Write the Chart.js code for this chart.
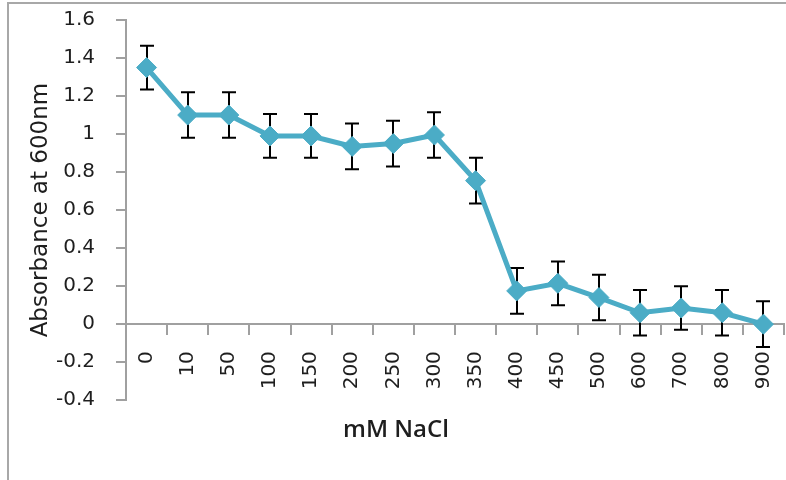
<!DOCTYPE html>
<html>
<head>
<meta charset="utf-8">
<script src="https://cdn.jsdelivr.net/npm/chart.js@4/dist/chart.umd.min.js"></script>
<style>
  body { margin: 0; background: #fff; }
  #wrap { position: relative; width: 786px; height: 480px; }
  #frame { position: absolute; left: 7px; top: 2px; right: 0; bottom: 0;
           border-left: 2px solid #a8a8a8; border-top: 2px solid #a8a8a8; }
  canvas { position: absolute; left: 0; top: 0; }
</style>
</head>
<body>
<div id="wrap">
  <div id="frame"></div>
  <canvas id="nacl" width="786" height="480"></canvas>
</div>
<script>
// NaCl concentration (mM) vs absorbance at 600nm
const nacl = ['0', '10', '50', '100', '150', '200', '250', '300', '350', '400', '450', '500', '600', '700', '800', '900']
const absorbance = [1.35, 1.10, 1.10, 0.99, 0.99, 0.935, 0.95, 0.995, 0.755, 0.175, 0.215, 0.14, 0.06, 0.085, 0.06, 0.0]
const errors = [0.115, 0.12, 0.12, 0.115, 0.115, 0.12, 0.12, 0.12, 0.12, 0.12, 0.115, 0.12, 0.12, 0.115, 0.12, 0.12]
const yTicks = [-0.4, -0.2, 0, 0.2, 0.4, 0.6, 0.8, 1, 1.2, 1.4, 1.6]

const axisGray = '#a0a0a0'
const textColor = '#1e1e1e'

// error bars drawn under the line so the markers cover them
const errorBars = {
  id: 'errorBars',
  beforeDatasetsDraw(chart) {
    let ctx = chart.ctx
    let y = chart.scales.y
    let pts = chart.getDatasetMeta(0).data
    ctx.save()
    ctx.strokeStyle = '#000'
    ctx.lineWidth = 2
    absorbance.forEach((v, i) => {
      let px = Math.round(pts[i].x)
      let top = y.getPixelForValue(v + errors[i])
      let bot = y.getPixelForValue(v - errors[i])
      ctx.beginPath()
      ctx.moveTo(px, top); ctx.lineTo(px, bot)
      ctx.moveTo(px - 7, top); ctx.lineTo(px + 7, top)
      ctx.moveTo(px - 7, bot); ctx.lineTo(px + 7, bot)
      ctx.stroke()
    })
    ctx.restore()
  }
}

let naclChart = document.getElementById('nacl').getContext('2d')
let chart = new Chart(naclChart, {
  type: 'line',
  data: {
    labels: nacl,
    datasets: [{
      label: 'Absorbance',
      data: absorbance,
      borderColor: '#4bacc6',
      backgroundColor: '#4bacc6',
      borderWidth: 5,
      pointStyle: 'rectRot',
      pointRadius: 10,
      pointBorderWidth: 1,
      tension: 0
    }]
  },
  options: {
    responsive: false,
    animation: false,
    layout: { autoPadding: false, padding: { left: 8, top: 20, right: 2, bottom: 0 } },
    plugins: {
      legend: { display: false },
      tooltip: { enabled: false },
      title: {
        display: true,
        position: 'bottom',
        text: 'mM NaCl',
        color: textColor,
        font: { family: 'Open Sans', size: 24, weight: 600 },
        padding: { top: 16, bottom: 35 }
      }
    },
    scales: {
      x: {
        type: 'category',
        position: { y: 0 },
        offset: true,
        afterFit: (s) => { s.paddingLeft = 0; s.paddingRight = 0 },
        grid: { offset: true, drawOnChartArea: false, drawTicks: true, tickLength: 10, color: axisGray, lineWidth: 2 },
        border: { color: axisGray, width: 2 },
        ticks: {
          color: textColor,
          font: { family: 'DejaVu Sans', size: 20 },
          minRotation: 90,
          maxRotation: 90,
          padding: 17,
          autoSkip: false
        }
      },
      y: {
        min: yTicks[0],
        max: yTicks[yTicks.length - 1],
        afterBuildTicks: (s) => { s.ticks = yTicks.map(v => ({ value: v })) },
        afterFit: (s) => { s.width = 118; s.paddingTop = 0; s.paddingBottom = 0 },
        grid: { drawOnChartArea: false, drawTicks: true, tickLength: 10, color: axisGray, lineWidth: 2 },
        border: { color: axisGray, width: 2 },
        ticks: {
          color: textColor,
          font: { family: 'DejaVu Sans', size: 20 },
          padding: 21,
          callback: (v) => String(+v.toFixed(1))
        },
        title: {
          display: true,
          text: 'Absorbance at 600nm',
          color: textColor,
          font: { family: 'DejaVu Sans', size: 23 },
          padding: { top: 19, bottom: 0 }
        }
      }
    }
  },
  plugins: [errorBars]
})
</script>
</body>
</html>
